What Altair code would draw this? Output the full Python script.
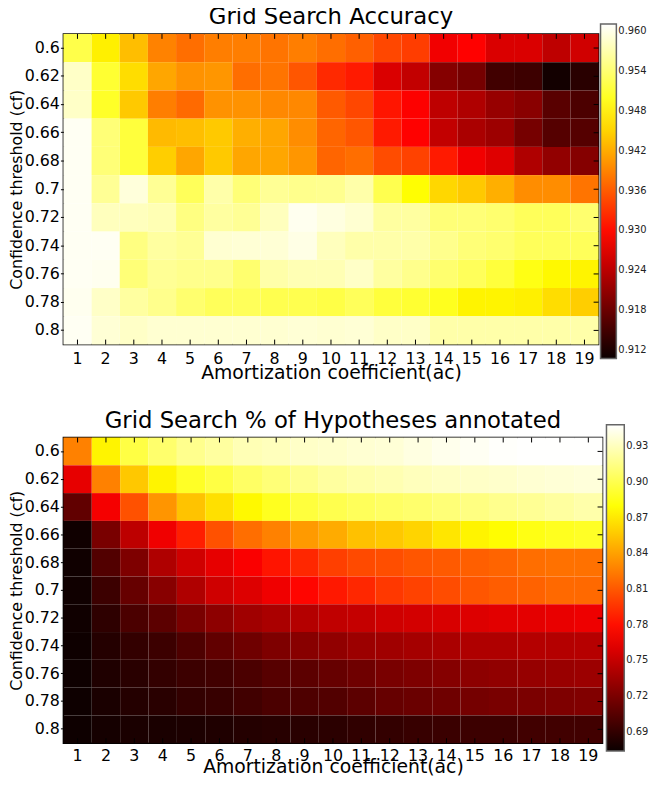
import altair as alt
import pandas as pd
import numpy as np

# ---------------- data ----------------
ac_values = list(range(1, 20))
cf_labels = ["0.6", "0.62", "0.64", "0.66", "0.68", "0.7", "0.72", "0.74", "0.76", "0.78", "0.8"]

acc_060 = [0.9520, 0.9472, 0.9434, 0.9389, 0.9374, 0.9386, 0.9386, 0.9378, 0.9386, 0.9374, 0.9363, 0.9344, 0.9337, 0.9281, 0.9292, 0.9263, 0.9263, 0.9242, 0.9256]
acc_062 = [0.9583, 0.9508, 0.9457, 0.9416, 0.9401, 0.9404, 0.9374, 0.9378, 0.9356, 0.9322, 0.9311, 0.9263, 0.9245, 0.9199, 0.9188, 0.9148, 0.9145, 0.9113, 0.9130]
acc_064 = [0.9583, 0.9503, 0.9442, 0.9386, 0.9371, 0.9401, 0.9401, 0.9393, 0.9393, 0.9359, 0.9344, 0.9307, 0.9290, 0.9242, 0.9231, 0.9213, 0.9202, 0.9166, 0.9156]
acc_066 = [0.9605, 0.9543, 0.9513, 0.9431, 0.9434, 0.9442, 0.9423, 0.9416, 0.9397, 0.9367, 0.9356, 0.9311, 0.9292, 0.9245, 0.9227, 0.9217, 0.9188, 0.9163, 0.9163]
acc_068 = [0.9605, 0.9543, 0.9513, 0.9446, 0.9416, 0.9442, 0.9416, 0.9416, 0.9404, 0.9367, 0.9374, 0.9348, 0.9341, 0.9311, 0.9281, 0.9267, 0.9231, 0.9209, 0.9199]
acc_070 = [0.9605, 0.9558, 0.9593, 0.9558, 0.9528, 0.9568, 0.9543, 0.9558, 0.9553, 0.9555, 0.9568, 0.9523, 0.9483, 0.9453, 0.9442, 0.9423, 0.9397, 0.9397, 0.9378]
acc_072 = [0.9605, 0.9578, 0.9578, 0.9573, 0.9548, 0.9563, 0.9558, 0.9578, 0.9603, 0.9595, 0.9588, 0.9563, 0.9563, 0.9543, 0.9543, 0.9538, 0.9528, 0.9528, 0.9538]
acc_074 = [0.9605, 0.9605, 0.9548, 0.9563, 0.9558, 0.9588, 0.9590, 0.9590, 0.9598, 0.9578, 0.9568, 0.9568, 0.9568, 0.9553, 0.9543, 0.9538, 0.9528, 0.9528, 0.9528]
acc_076 = [0.9605, 0.9603, 0.9543, 0.9558, 0.9553, 0.9553, 0.9538, 0.9568, 0.9573, 0.9573, 0.9583, 0.9563, 0.9553, 0.9538, 0.9528, 0.9513, 0.9493, 0.9479, 0.9475]
acc_078 = [0.9603, 0.9583, 0.9563, 0.9553, 0.9538, 0.9528, 0.9528, 0.9523, 0.9523, 0.9518, 0.9528, 0.9513, 0.9508, 0.9498, 0.9475, 0.9475, 0.9472, 0.9457, 0.9446]
acc_080 = [0.9605, 0.9590, 0.9583, 0.9588, 0.9588, 0.9588, 0.9588, 0.9588, 0.9590, 0.9588, 0.9590, 0.9583, 0.9583, 0.9568, 0.9568, 0.9568, 0.9568, 0.9568, 0.9568]

hyp_060 = [0.827, 0.874, 0.897, 0.908, 0.917, 0.922, 0.928, 0.930, 0.933, 0.934, 0.936, 0.937, 0.940, 0.943, 0.945, 0.947, 0.948, 0.948, 0.948]
hyp_062 = [0.764, 0.827, 0.856, 0.874, 0.889, 0.897, 0.906, 0.911, 0.917, 0.922, 0.925, 0.927, 0.930, 0.932, 0.933, 0.934, 0.936, 0.937, 0.938]
hyp_064 = [0.709, 0.770, 0.807, 0.835, 0.854, 0.866, 0.876, 0.887, 0.895, 0.900, 0.903, 0.906, 0.908, 0.911, 0.914, 0.917, 0.919, 0.922, 0.925]
hyp_066 = [0.676, 0.719, 0.747, 0.768, 0.786, 0.807, 0.819, 0.827, 0.837, 0.844, 0.853, 0.856, 0.861, 0.868, 0.874, 0.878, 0.884, 0.887, 0.889]
hyp_068 = [0.676, 0.703, 0.721, 0.741, 0.754, 0.764, 0.772, 0.782, 0.790, 0.800, 0.804, 0.806, 0.809, 0.811, 0.813, 0.815, 0.819, 0.820, 0.820]
hyp_070 = [0.676, 0.694, 0.711, 0.725, 0.741, 0.754, 0.760, 0.768, 0.776, 0.784, 0.790, 0.797, 0.801, 0.805, 0.809, 0.812, 0.814, 0.817, 0.817]
hyp_072 = [0.676, 0.688, 0.700, 0.707, 0.719, 0.727, 0.735, 0.739, 0.743, 0.748, 0.750, 0.754, 0.756, 0.758, 0.760, 0.762, 0.763, 0.765, 0.767]
hyp_074 = [0.675, 0.684, 0.690, 0.694, 0.701, 0.709, 0.715, 0.721, 0.725, 0.729, 0.733, 0.735, 0.737, 0.739, 0.741, 0.741, 0.743, 0.743, 0.744]
hyp_076 = [0.675, 0.682, 0.686, 0.690, 0.694, 0.696, 0.700, 0.705, 0.707, 0.711, 0.715, 0.719, 0.721, 0.724, 0.727, 0.729, 0.731, 0.732, 0.733]
hyp_078 = [0.675, 0.680, 0.684, 0.686, 0.690, 0.692, 0.696, 0.700, 0.701, 0.703, 0.707, 0.711, 0.713, 0.715, 0.717, 0.719, 0.720, 0.721, 0.722]
hyp_080 = [0.675, 0.678, 0.680, 0.680, 0.681, 0.682, 0.684, 0.685, 0.686, 0.687, 0.689, 0.690, 0.692, 0.693, 0.694, 0.694, 0.696, 0.696, 0.696]

acc_rows = [acc_060, acc_062, acc_064, acc_066, acc_068, acc_070, acc_072, acc_074, acc_076, acc_078, acc_080]
hyp_rows = [hyp_060, hyp_062, hyp_064, hyp_066, hyp_068, hyp_070, hyp_072, hyp_074, hyp_076, hyp_078, hyp_080]

acc_ticks = [0.912, 0.918, 0.924, 0.930, 0.936, 0.942, 0.948, 0.954, 0.960]
hyp_ticks = [0.69, 0.72, 0.75, 0.78, 0.81, 0.84, 0.87, 0.90, 0.93]
acc_domain = [0.9107, 0.9611]
hyp_domain = [0.6737, 0.9482]

# ------------- matplotlib "hot" colormap (style) -------------
def hot_hex(t):
    r = min(1.0, 0.0416 + (1 - 0.0416) * t / 0.365079)
    g = min(1.0, max(0.0, (t - 0.365079) / (0.746032 - 0.365079)))
    b = min(1.0, max(0.0, (t - 0.746032) / (1 - 0.746032)))
    return "#%02x%02x%02x" % (int(round(r * 255)), int(round(g * 255)), int(round(b * 255)))

HOT = [hot_hex(t) for t in np.linspace(0, 1, 121)]


def long_df(rows):
    recs = []
    for cf, row in zip(cf_labels, rows):
        for ac, v in zip(ac_values, row):
            recs.append({"ac": ac, "cf": cf, "v": v})
    return pd.DataFrame(recs)


df_ac = pd.DataFrame({"ac": ac_values})
df_cf = pd.DataFrame({"cf": cf_labels})

FONT = "DejaVu Sans"


def panel(rows, title, domain, ticks, fmt, w, h, lx, ly, glen, gthick, toff, lpad, xty):
    x_enc = alt.X("ac:O", sort=ac_values,
                  axis=alt.Axis(title="Amortization coefficient(ac)", labelAngle=0, ticks=False,
                                domain=False, labelPadding=lpad, labelBaseline="middle",
                                titleY=xty, titleBaseline="middle", titleFontSize=19))
    y_enc = alt.Y("cf:O", sort=cf_labels,
                  axis=alt.Axis(title="Confidence threshold (cf)", domain=False, ticks=True,
                                tickSize=3, tickColor="black", labelPadding=1,
                                titleX=-47, titleY=h / 2, titleBaseline="middle"))
    heat = alt.Chart(long_df(rows)).mark_rect().encode(
        x=x_enc,
        y=y_enc,
        color=alt.Color("v:Q", title=None,
                        scale=alt.Scale(domain=domain, range=HOT, interpolate="rgb"),
                        legend=alt.Legend(type="gradient", orient="none", legendX=lx, legendY=ly,
                                          direction="vertical",
                                          gradientLength=glen, gradientThickness=gthick, padding=0,
                                          values=ticks, format=fmt, labelFontSize=10, labelFont=FONT,
                                          labelColor="#222", labelOffset=2, labelOverlap=False,
                                          gradientStrokeColor="#666", gradientStrokeWidth=1.5)),
    )
    top_t = alt.Chart(df_ac).mark_rule(color="black", strokeWidth=1).encode(
        x=alt.X("ac:O", sort=ac_values), y=alt.value(0), y2=alt.value(5))
    bot_t = alt.Chart(df_ac).mark_rule(color="black", strokeWidth=1).encode(
        x=alt.X("ac:O", sort=ac_values), y=alt.value(h - 5), y2=alt.value(h))
    right_t = alt.Chart(df_cf).mark_rule(color="black", strokeWidth=1).encode(
        y=alt.Y("cf:O", sort=cf_labels), x=alt.value(w - 5), x2=alt.value(w))
    return alt.layer(heat, top_t, bot_t, right_t).properties(
        width=w, height=h,
        title=alt.TitleParams(title, fontSize=23, fontWeight="normal", font=FONT, color="black",
                              offset=toff, anchor="middle"))


top = panel(acc_rows, "Grid Search Accuracy", acc_domain, acc_ticks, ".3f",
            541, 314, 543, -10, 338, 16, -5, 14, 28)
bottom = panel(hyp_rows, "Grid Search % of Hypotheses annotated", hyp_domain, hyp_ticks, ".2f",
               545, 309, 549, -13, 330, 18, -8, 13, 24)

chart = alt.vconcat(top, bottom, spacing=94, bounds="flush").resolve_scale(
    color="independent", x="independent", y="independent"
).properties(
    padding={"top": -7, "bottom": -2, "left": 0, "right": 0}, background="white"
).configure_view(
    stroke="black", strokeWidth=1.5
).configure_axis(
    labelFont=FONT, titleFont=FONT, labelFontSize=16, titleFontSize=16,
    titleFontWeight="normal", labelColor="black", titleColor="black", grid=False
)

chart.save("out.html", embed_options={"renderer": "svg", "actions": False})
